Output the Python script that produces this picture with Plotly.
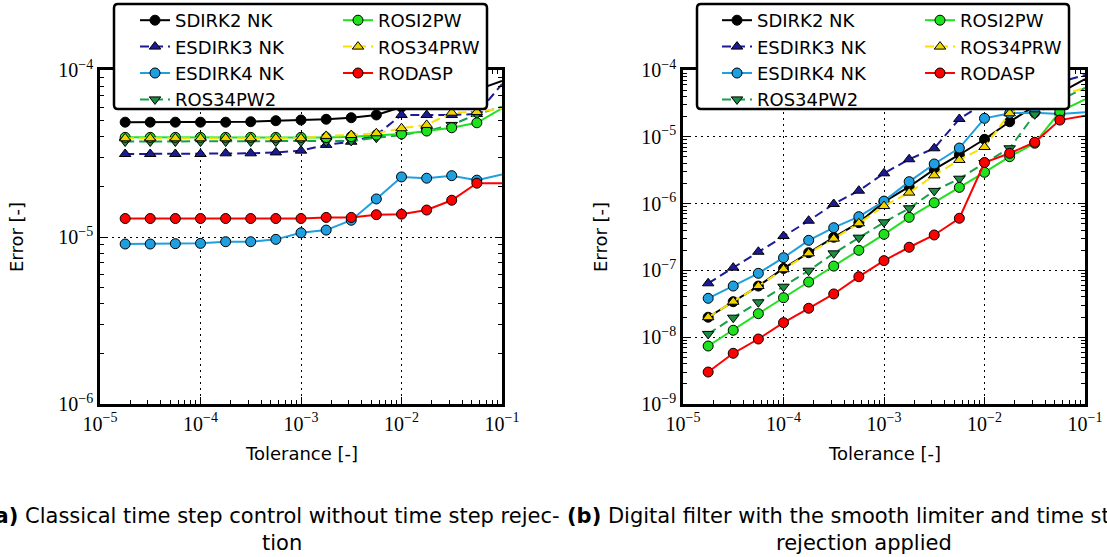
import plotly.graph_objects as go

W, H = 1107, 557

# Tolerance values (quarter-decade steps)
tolerance = [1.78e-5, 3.16e-5, 5.62e-5, 1.0e-4, 1.78e-4, 3.16e-4, 5.62e-4, 1.0e-3,
             1.78e-3, 3.16e-3, 5.62e-3, 1.0e-2, 1.78e-2, 3.16e-2, 5.62e-2, 1.0e-1]

# (a) classical step control, no rejection
a_sdirk2 = [4.87e-5, 4.87e-5, 4.87e-5, 4.87e-5, 4.87e-5, 4.90e-5, 4.97e-5, 5.02e-5,
            5.07e-5, 5.18e-5, 5.38e-5, 6.00e-5, 6.60e-5, 7.10e-5, 7.60e-5, 8.60e-5]
a_esdirk3 = [3.14e-5, 3.14e-5, 3.14e-5, 3.14e-5, 3.17e-5, 3.17e-5, 3.21e-5, 3.29e-5,
             3.56e-5, 3.72e-5, 4.08e-5, 5.38e-5, 5.38e-5, 5.38e-5, 5.45e-5, 8.24e-5]
a_esdirk4 = [9.08e-6, 9.08e-6, 9.12e-6, 9.16e-6, 9.37e-6, 9.37e-6, 9.68e-6, 1.06e-5,
             1.10e-5, 1.26e-5, 1.69e-5, 2.29e-5, 2.25e-5, 2.33e-5, 2.19e-5, 2.37e-5]
a_ros34pw2 = [3.73e-5, 3.73e-5, 3.73e-5, 3.73e-5, 3.73e-5, 3.73e-5, 3.73e-5, 3.73e-5,
              3.73e-5, 3.76e-5, 3.93e-5, 4.08e-5, 4.31e-5, 4.69e-5, 5.43e-5, 6.03e-5]
a_rosi2pw = [3.95e-5, 3.95e-5, 3.95e-5, 3.95e-5, 3.95e-5, 3.95e-5, 3.95e-5, 3.95e-5,
             3.94e-5, 3.99e-5, 4.08e-5, 4.14e-5, 4.31e-5, 4.51e-5, 4.83e-5, 5.90e-5]
a_ros34prw = [3.90e-5, 3.90e-5, 3.90e-5, 3.90e-5, 3.90e-5, 3.90e-5, 3.90e-5, 3.90e-5,
              4.03e-5, 4.08e-5, 4.18e-5, 4.48e-5, 4.69e-5, 5.55e-5, 5.60e-5, 5.90e-5]
a_rodasp = [1.29e-5, 1.29e-5, 1.29e-5, 1.29e-5, 1.29e-5, 1.29e-5, 1.29e-5, 1.29e-5,
            1.31e-5, 1.31e-5, 1.36e-5, 1.37e-5, 1.45e-5, 1.66e-5, 2.10e-5, 2.10e-5]

# (b) digital filter with smooth limiter and step rejection
b_sdirk2 = [1.99e-8, 3.40e-8, 5.83e-8, 1.07e-7, 1.84e-7, 3.13e-7, 5.18e-7, 1.06e-6,
            1.79e-6, 3.26e-6, 5.39e-6, 9.18e-6, 1.68e-5, 2.89e-5, 4.53e-5, 7.33e-5]
b_esdirk3 = [6.41e-8, 1.10e-7, 1.90e-7, 3.27e-7, 5.54e-7, 9.86e-7, 1.56e-6, 2.84e-6,
             4.61e-6, 6.73e-6, 1.85e-5, 3.21e-5, 4.22e-5, 5.38e-5, 6.61e-5, 8.42e-5]
b_esdirk4 = [3.82e-8, 5.83e-8, 9.05e-8, 1.55e-7, 2.82e-7, 4.36e-7, 6.37e-7, 1.09e-6,
             2.13e-6, 3.92e-6, 6.79e-6, 1.89e-5, 2.25e-5, 2.30e-5, 2.19e-5, 2.33e-5]
b_ros34pw2 = [1.12e-8, 1.96e-8, 3.33e-8, 5.70e-8, 9.90e-8, 1.80e-7, 3.09e-7, 5.25e-7,
              8.51e-7, 1.55e-6, 2.36e-6, 4.06e-6, 6.73e-6, 2.17e-5, 3.56e-5, 5.38e-5]
b_rosi2pw = [7.38e-9, 1.27e-8, 2.25e-8, 3.90e-8, 6.70e-8, 1.16e-7, 2.00e-7, 3.47e-7,
             6.23e-7, 1.03e-6, 1.75e-6, 2.94e-6, 5.04e-6, 8.00e-6, 2.38e-5, 3.64e-5]
b_ros34prw = [1.99e-8, 3.40e-8, 5.83e-8, 1.04e-7, 1.80e-7, 2.99e-7, 5.07e-7, 9.20e-7,
              1.46e-6, 2.65e-6, 4.50e-6, 7.03e-6, 2.25e-5, 3.32e-5, 4.22e-5, 5.38e-5]
b_rodasp = [3.01e-9, 5.74e-9, 9.40e-9, 1.65e-8, 2.71e-8, 4.44e-8, 8.05e-8, 1.40e-7,
            2.22e-7, 3.39e-7, 6.03e-7, 4.12e-6, 5.66e-6, 8.28e-6, 1.78e-5, 2.07e-5]

method_names = ["SDIRK2 NK", "ESDIRK3 NK", "ESDIRK4 NK", "ROS34PW2",
                "ROSI2PW", "ROS34PRW", "RODASP"]

caption_a = ["<b>(a)</b> Classical time step control without time step rejec-", "tion"]
caption_b = ["<b>(b)</b> Digital filter with the smooth limiter and time step", "rejection applied"]

# line colour, marker fill, marker symbol, dash
styles = {
    "SDIRK2 NK":  ("#000000", "#000000", "circle", "solid"),
    "ESDIRK3 NK": ("#1d1a96", "#1d1a96", "triangle-up", "9px,5px"),
    "ESDIRK4 NK": ("#1e9fe0", "#1e9fe0", "circle", "solid"),
    "ROS34PW2":   ("#19a04a", "#1a8f42", "triangle-down", "9px,5px"),
    "ROSI2PW":    ("#1ee21e", "#1ee21e", "circle", "solid"),
    "ROS34PRW":   ("#f8e000", "#f0d400", "triangle-up", "9px,5px"),
    "RODASP":     ("#ff0000", "#ff0000", "circle", "solid"),
}

series_a = [a_sdirk2, a_esdirk3, a_esdirk4, a_ros34pw2, a_rosi2pw, a_ros34prw, a_rodasp]
series_b = [b_sdirk2, b_esdirk3, b_esdirk4, b_ros34pw2, b_rosi2pw, b_ros34prw, b_rodasp]


def px(x):
    return x / W


def py(y):
    return 1 - y / H


fig = go.Figure()

# first legend column holds four entries, second column three
for panel, (series, xa, ya, legs) in enumerate([
        (series_a, "x", "y", ("legend", "legend2")),
        (series_b, "x2", "y2", ("legend3", "legend4"))]):
    for i, (name, vals) in enumerate(zip(method_names, series)):
        line_c, fill_c, sym, dash = styles[name]
        fig.add_trace(go.Scatter(
            x=tolerance, y=vals, name=name, mode="lines+markers",
            xaxis=xa, yaxis=ya, cliponaxis=False,
            legend=legs[0] if i < 4 else legs[1],
            line=dict(color=line_c, width=2, dash=dash),
            marker=dict(symbol=sym, size=10,
                        color=fill_c, line=dict(color="black", width=1)),
        ))


def sup_label(e):
    return "10<sup>\u2212%d</sup>" % e


tick_font = dict(family="Liberation Serif", size=20, color="black")


def log_axis(exp_lo, exp_hi, domain, anchor):
    majors = [10.0 ** e for e in range(exp_lo, exp_hi + 1)]
    minors = [k * 10.0 ** e for e in range(exp_lo, exp_hi) for k in range(2, 10)]
    return dict(
        type="log", range=[exp_lo, exp_hi], domain=domain, anchor=anchor,
        automargin=False,
        tickmode="array", tickvals=majors, ticktext=[sup_label(-e) for e in range(exp_lo, exp_hi + 1)],
        ticks="inside", ticklen=7, tickwidth=1, tickcolor="black",
        showline=True, linewidth=2.5, linecolor="black", mirror="allticks",
        showgrid=True, gridcolor="black", gridwidth=1, griddash="2px,4px",
        zeroline=False, tickfont=tick_font,
        minor=dict(tickmode="array", tickvals=minors, ticks="inside", ticklen=4,
                   tickwidth=1, tickcolor="black", showgrid=False),
    )


ydom = [py(404), py(70)]
fig.update_layout(
    width=W, height=H, autosize=False,
    margin=dict(l=0, r=0, t=0, b=0, autoexpand=False),
    paper_bgcolor="white", plot_bgcolor="white",
    xaxis=log_axis(-5, -1, [px(100), px(502)], "y"),
    yaxis=log_axis(-6, -4, ydom, "x"),
    xaxis2=log_axis(-5, -1, [px(683), px(1085)], "y2"),
    yaxis2=log_axis(-9, -4, ydom, "x2"),
)

legend_font = dict(family="DejaVu Sans", size=18, color="black")
for key, lx in [("legend", 135), ("legend2", 338), ("legend3", 717), ("legend4", 920)]:
    fig.update_layout({key: dict(
        x=px(lx), y=py(2), xanchor="left", yanchor="top",
        bgcolor="rgba(0,0,0,0)", borderwidth=0, font=legend_font,
        orientation="v", itemwidth=30, tracegroupgap=0,
    )})


def rounded_box(x0, y0, x1, y1, r):
    pts = []
    pts.append("M %f,%f" % (px(x0 + r), py(y0)))
    pts.append("L %f,%f" % (px(x1 - r), py(y0)))
    pts.append("Q %f,%f %f,%f" % (px(x1), py(y0), px(x1), py(y0 + r)))
    pts.append("L %f,%f" % (px(x1), py(y1 - r)))
    pts.append("Q %f,%f %f,%f" % (px(x1), py(y1), px(x1 - r), py(y1)))
    pts.append("L %f,%f" % (px(x0 + r), py(y1)))
    pts.append("Q %f,%f %f,%f" % (px(x0), py(y1), px(x0), py(y1 - r)))
    pts.append("L %f,%f" % (px(x0), py(y0 + r)))
    pts.append("Q %f,%f %f,%f" % (px(x0), py(y0), px(x0 + r), py(y0)))
    pts.append("Z")
    return " ".join(pts)


for (x0, x1) in [(114, 487), (697, 1069)]:
    fig.add_shape(type="path", xref="paper", yref="paper",
                  path=rounded_box(x0, 4, x1, 109, 4),
                  fillcolor="white", line=dict(color="black", width=2.5), layer="above")

title_font = dict(family="DejaVu Sans", size=18, color="black")
cap_font = dict(family="DejaVu Sans", size=21, color="black")

for cx in (301, 884):
    fig.add_annotation(xref="paper", yref="paper", x=px(cx), y=py(453),
                       text="Tolerance [-]", showarrow=False, font=title_font,
                       xanchor="center", yanchor="middle")
for cx in (16, 600):
    fig.add_annotation(xref="paper", yref="paper", x=px(cx), y=py(237),
                       text="Error [-]", showarrow=False, font=title_font, textangle=-90,
                       xanchor="center", yanchor="middle")

fig.add_annotation(xref="paper", yref="paper", x=px(-17), y=py(516), text=caption_a[0],
                   showarrow=False, font=cap_font, xanchor="left", yanchor="middle")
fig.add_annotation(xref="paper", yref="paper", x=px(282), y=py(543), text=caption_a[1],
                   showarrow=False, font=cap_font, xanchor="center", yanchor="middle")
fig.add_annotation(xref="paper", yref="paper", x=px(565), y=py(516), text=caption_b[0],
                   showarrow=False, font=cap_font, xanchor="left", yanchor="middle")
fig.add_annotation(xref="paper", yref="paper", x=px(864), y=py(543), text=caption_b[1],
                   showarrow=False, font=cap_font, xanchor="center", yanchor="middle")

fig.write_html("out.html")
